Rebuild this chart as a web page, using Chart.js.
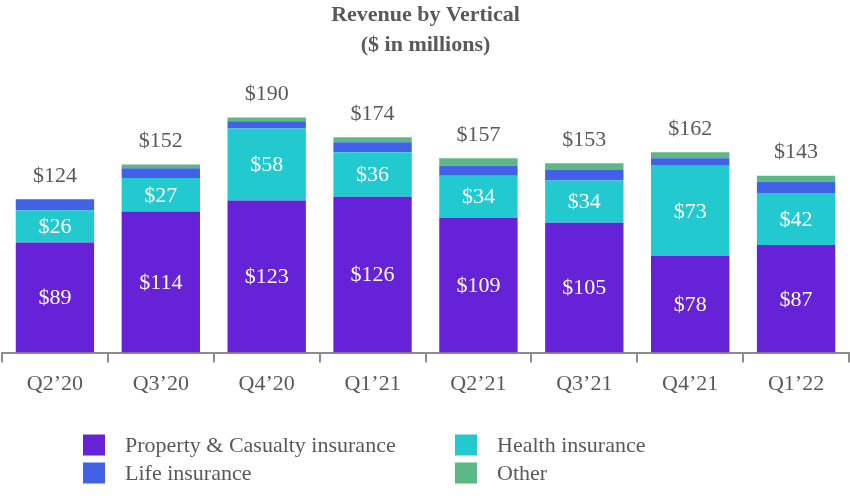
<!DOCTYPE html>
<html>
<head>
<meta charset="utf-8">
<script src="https://cdn.jsdelivr.net/npm/chart.js@4/dist/chart.umd.min.js"></script>
<style>
  body { margin: 0; background: #fff; }
  #wrap { width: 850px; height: 500px; position: relative; }
</style>
</head>
<body>
<div id="wrap"><canvas id="revChart"></canvas></div>
<script>
var quarters = ["Q2\u201920", "Q3\u201920", "Q4\u201920", "Q1\u201921", "Q2\u201921", "Q3\u201921", "Q4\u201921", "Q1\u201922"];
var propertyCasualty = [89, 114, 123, 126, 109, 105, 78, 87];
var health = [26, 27, 58, 36, 34, 34, 73, 42];
var life = [9, 8, 6, 8, 8, 9, 6, 9];
var other = [0, 3, 3, 4, 6, 5, 5, 5];
var totals = [124, 152, 190, 174, 157, 153, 162, 143];

var serif = "'Liberation Serif', 'Times New Roman', serif";
var grey = "#595959";

// value labels inside bars + totals on top
var labelPlugin = {
    id: 'labels',
    afterDatasetsDraw: function(chart) {
        var ctx = chart.ctx;
        ctx.save();
        ctx.font = "22px " + serif;
        ctx.textAlign = "center";
        ctx.textBaseline = "middle";
        [0, 1].forEach(function(di){
            var meta = chart.getDatasetMeta(di);
            meta.data.forEach(function(bar, i){
                var v = chart.data.datasets[di].data[i];
                ctx.fillStyle = "#ffffff";
                ctx.fillText("$" + v, bar.x, (bar.y + bar.base) / 2 + 1);
            });
        });
        var topMeta = chart.getDatasetMeta(3);
        topMeta.data.forEach(function(bar, i){
            ctx.fillStyle = grey;
            ctx.fillText("$" + totals[i], bar.x, bar.y - 23);
        });
        ctx.restore();
    }
};

// 2x2 legend under the axis
var legendPlugin = {
    id: 'gridLegend',
    afterDraw: function(chart) {
        var ctx = chart.ctx;
        var ds = chart.data.datasets;
        var cols = [83, 455];
        var rows = [445, 473];
        ctx.save();
        ctx.font = "22px " + serif;
        ctx.textBaseline = "middle";
        ctx.textAlign = "left";
        [0, 1, 2, 3].forEach(function(di, k){
            var x = cols[k % 2], y = rows[Math.floor(k / 2)];
            ctx.fillStyle = ds[di].backgroundColor;
            ctx.fillRect(x, y - 10.5, 22, 21);
            ctx.fillStyle = grey;
            ctx.fillText(ds[di].label, x + 42, y + 1);
        });
        ctx.restore();
    }
};

var ctx = document.getElementById('revChart');
var revChart = new Chart(ctx, {
    type: 'bar',
    data: {
        labels: quarters,
        datasets: [
            { label: "Property & Casualty insurance", data: propertyCasualty, backgroundColor: "#6622d6" },
            { label: "Health insurance", data: health, backgroundColor: "#22c9cf" },
            { label: "Life insurance", data: life, backgroundColor: "#4361e6" },
            { label: "Other", data: other, backgroundColor: "#5cb885" }
        ]
    },
    options: {
        responsive: true,
        maintainAspectRatio: false,
        animation: false,
        layout: {
            padding: { left: 2, right: 1, top: 0, bottom: 95 }
        },
        datasets: {
            bar: { barPercentage: 0.74, categoryPercentage: 1.0, borderWidth: 0 }
        },
        scales: {
            x: {
                stacked: true,
                grid: { display: true, drawOnChartArea: false, tickLength: 10, color: "#8c8c8c", lineWidth: 2 },
                border: { display: true, color: "#8c8c8c", width: 2 },
                ticks: { color: grey, font: { family: serif, size: 22 }, padding: 8 }
            },
            y: {
                stacked: true,
                display: false,
                min: 0,
                max: 218
            }
        },
        plugins: {
            legend: { display: false },
            tooltip: { enabled: false },
            title: {
                display: true,
                text: ["Revenue by Vertical", "($ in millions)"],
                color: grey,
                font: { family: serif, size: 22, weight: 'bold', lineHeight: 1.36 },
                padding: { top: 0, bottom: 23 }
            }
        }
    },
    plugins: [labelPlugin, legendPlugin]
});
</script>
</body>
</html>
